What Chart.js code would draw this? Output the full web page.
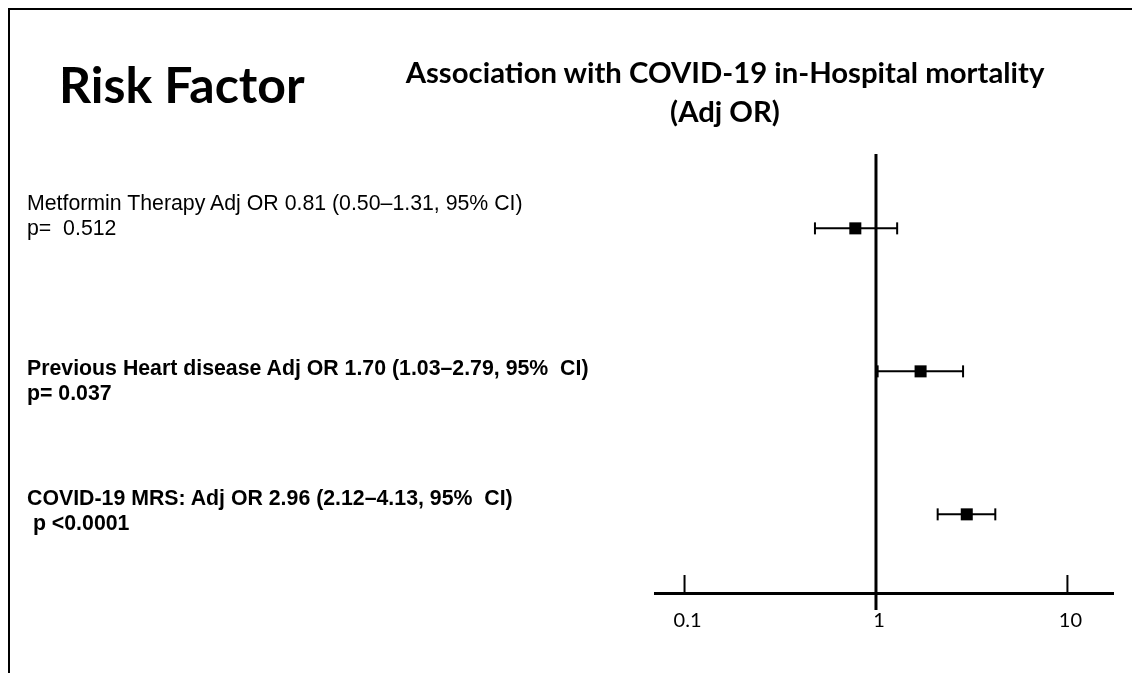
<!DOCTYPE html>
<html>
<head>
<meta charset="utf-8">
<script src="https://cdn.jsdelivr.net/npm/chart.js@4.4.0/dist/chart.umd.min.js"></script>
<style>
  html, body { margin: 0; padding: 0; background: #fff; }
  body { width: 1142px; height: 673px; position: relative; overflow: hidden; }
  #frame { position: absolute; left: 8px; top: 8px; width: 1122px; height: 680px;
           border-top: 2px solid #000; border-left: 2px solid #000; }
  #chart { position: absolute; left: 0; top: 0; }
  .txt { position: absolute; color: #000; white-space: pre; }
  #risk { left: 59px; top: 59px; font: bold 50px/1 Lato, sans-serif; }
  #title { left: 725px; top: 52px; transform: translateX(-50%); text-align: center;
           font: bold 29.3px/39px Lato, sans-serif; }
  .row { left: 27px; font: 21.3px/24.5px "Liberation Sans", Arial, sans-serif; }
  .row.b { font-weight: bold; }
</style>
</head>
<body>
<div id="frame"></div>
<canvas id="chart" width="1142" height="673"></canvas>
<div class="txt" id="risk">Risk Factor</div>
<div class="txt" id="title">Association with COVID-19 in-Hospital mortality<br>(Adj OR)</div>
<script>
// rows, top to bottom
var factors = ["Metformin Therapy", "Previous Heart disease", "COVID-19 MRS"];
var rowY = [3, 2, 1];
var adjOR = [0.78, 1.71, 2.98];
var ciLow = [0.48, 1.02, 2.10];
var ciHigh = [1.29, 2.85, 4.20];
var xTicks = [0.1, 1, 10];
var labelLine1 = [
  "Metformin Therapy Adj OR 0.81 (0.50\u20131.31, 95% CI)",
  "Previous Heart disease Adj OR 1.70 (1.03\u20132.79, 95%  CI)",
  "COVID-19 MRS: Adj OR 2.96 (2.12\u20134.13, 95%  CI)"
];
var labelLine2 = ["p=  0.512", "p= 0.037", " p <0.0001"];
var labelBold = [false, true, true];
var labelTop = [191, 356, 486];

for (let i = 0; i < factors.length; i++) {
  let d = document.createElement('div');
  d.className = 'txt row' + (labelBold[i] ? ' b' : '');
  d.style.top = labelTop[i] + 'px';
  d.textContent = labelLine1[i] + '\n' + labelLine2[i];
  document.body.appendChild(d);
}

let datasets = [{
  label: 'Adj OR',
  data: adjOR.map((v, i) => ({x: v, y: rowY[i]})),
  pointStyle: 'rect',
  pointRadius: 8.5,
  backgroundColor: '#000',
  borderColor: '#000',
  borderWidth: 0
}];
for (let i = 0; i < factors.length; i++) {
  datasets.push({
    label: factors[i] + ' CI',
    data: [{x: ciLow[i], y: rowY[i]}, {x: ciHigh[i], y: rowY[i]}],
    showLine: true,
    borderColor: '#000',
    borderWidth: 2,
    pointStyle: 'line',
    pointRotation: 90,
    pointRadius: 6,
    pointBorderWidth: 2,
    pointBorderColor: '#000'
  });
}

// reference line at OR = 1 and upward tick marks
let forestLines = {
  id: 'forestLines',
  beforeDatasetsDraw(chart) {
    let ctx = chart.ctx, a = chart.chartArea, x = chart.scales.x;
    ctx.save();
    ctx.strokeStyle = '#000';
    ctx.lineWidth = 2;
    xTicks.forEach(v => {
      let px = x.getPixelForValue(v);
      ctx.beginPath();
      ctx.moveTo(px, a.bottom - 18);
      ctx.lineTo(px, a.bottom);
      ctx.stroke();
    });
    let p1 = x.getPixelForValue(1);
    ctx.lineWidth = 3;
    ctx.beginPath();
    ctx.moveTo(p1, a.top);
    ctx.lineTo(p1, a.bottom + 17);
    ctx.stroke();
    ctx.restore();
  }
};

new Chart('chart', {
  type: 'scatter',
  data: {datasets: datasets},
  plugins: [forestLines],
  options: {
    responsive: false,
    animation: false,
    layout: {padding: {left: 655, right: 29, top: 154, bottom: 0}},
    plugins: {legend: {display: false}, tooltip: {enabled: false}},
    scales: {
      x: {
        type: 'logarithmic',
        min: 0.0701,
        max: 17.3,
        afterBuildTicks: s => { s.ticks = xTicks.map(v => ({value: v})); },
        afterFit: s => { s.height = 80; },
        ticks: {
          callback: v => String(v),
          autoSkip: false,
          maxRotation: 0,
          padding: 16,
          labelOffset: 3,
          color: '#000',
          font: {family: 'Lato', size: 20}
        },
        grid: {display: false, drawTicks: false},
        border: {display: true, color: '#000', width: 3}
      },
      y: {min: 0.45, max: 3.52, display: false}
    }
  }
});
</script>
</body>
</html>
